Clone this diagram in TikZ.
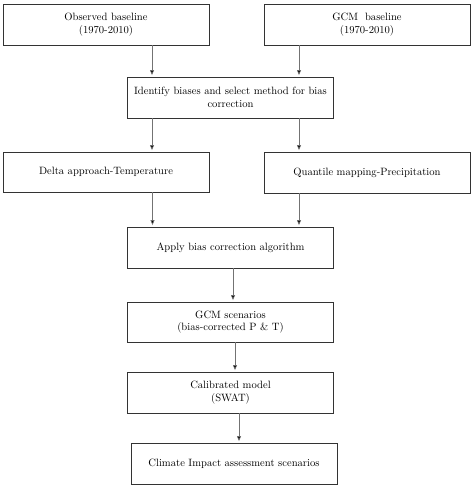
\documentclass[tikz,border=0pt]{standalone}
\usetikzlibrary{arrows.meta}
\begin{document}
\begin{tikzpicture}[x=1pt,y=-1pt,
  box/.style={draw=black!80,line width=0.9pt,rectangle,minimum width=206pt,minimum height=41pt,inner sep=0pt,align=center,font=\fontsize{10.6}{12.5}\selectfont,text=black},
  arr/.style={draw=black!55,line width=0.6pt,-{Triangle[length=5pt,width=4pt,fill=black]},shorten >=1.5pt}]
\useasboundingbox[fill=white] (0,0) rectangle (474,489);
\node[box] (obs) at (106,24.5) {Observed baseline\\(1970-2010)};
\node[box] (gcm) at (367,24.5) {GCM\ \ baseline\\(1970-2010)};
\node[box] (id) at (230.5,97.5) {Identify biases and select method for bias\\correction};
\node[box,minimum height=40pt] (delta) at (106,172) {Delta approach-Temperature};
\node[box] (quant) at (367,172.5) {Quantile mapping-Precipitation};
\node[box] (apply) at (230.5,247.5) {Apply bias correction algorithm};
\node[box,minimum height=40pt] (scen) at (230.5,322) {GCM scenarios\\(bias-corrected P \& T)};
\node[box] (cal) at (230.5,392.5) {Calibrated model\\(SWAT)};
\node[box] (clim) at (234,463.5) {Climate Impact assessment scenarios};
\draw[arr] ([xshift=46pt]obs.south) -- ([xshift=-78.5pt]id.north);
\draw[arr] ([xshift=-68pt]gcm.south) -- ([xshift=68.5pt]id.north);
\draw[arr] ([xshift=-78.5pt]id.south) -- ([xshift=46pt]delta.north);
\draw[arr] ([xshift=68.5pt]id.south) -- ([xshift=-68pt]quant.north);
\draw[arr] ([xshift=46.5pt]delta.south) -- ([xshift=-78pt]apply.north);
\draw[arr] ([xshift=-68pt]quant.south) -- ([xshift=68.5pt]apply.north);
\draw[arr] ([xshift=2.5pt]apply.south) -- ([xshift=2.5pt]scen.north);
\draw[arr] ([xshift=4.5pt]scen.south) -- ([xshift=4.5pt]cal.north);
\draw[arr] ([xshift=8.5pt]cal.south) -- ([xshift=5pt]clim.north);
\end{tikzpicture}
\end{document}
